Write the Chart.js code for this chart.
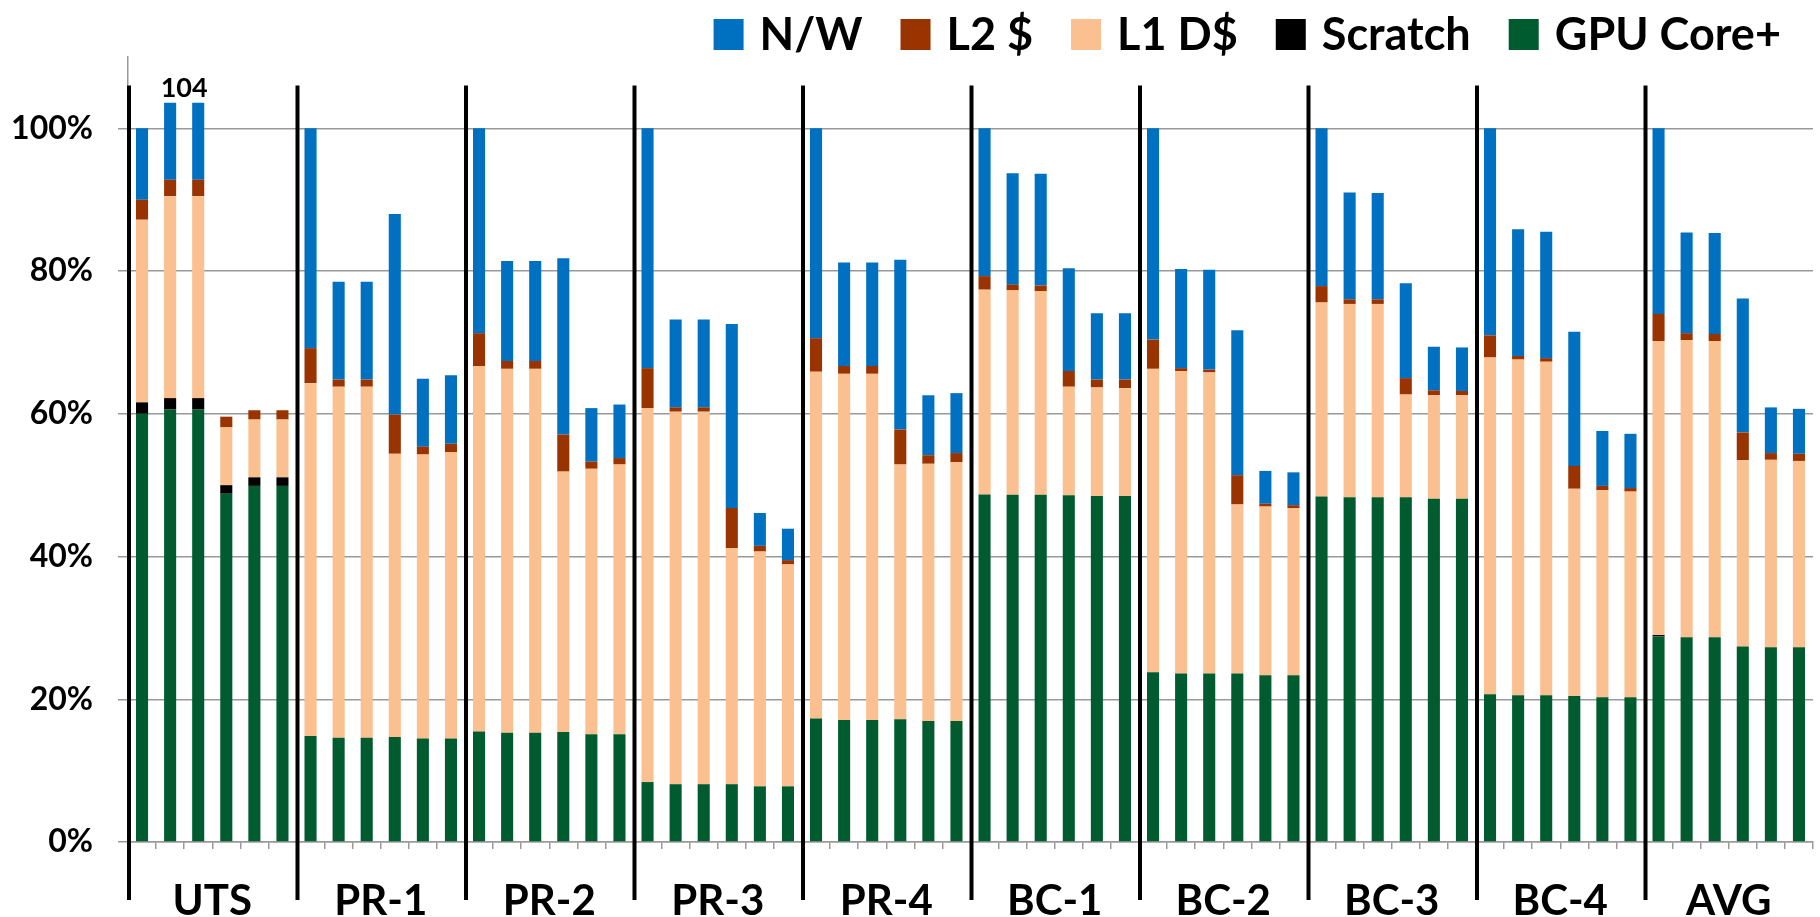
<!DOCTYPE html>
<html>
<head>
<meta charset="utf-8">
<script src="https://cdn.jsdelivr.net/npm/chart.js@4.4.1/dist/chart.umd.min.js"></script>
<style>
  html, body { margin: 0; padding: 0; background: #fff; }
  #wrap { width: 1820px; height: 917px; }
</style>
</head>
<body>
<div id="wrap"><canvas id="energyChart" width="1820" height="917"></canvas></div>
<script>
// benchmark groups, 6 configurations each
const groups = ['UTS', 'PR-1', 'PR-2', 'PR-3', 'PR-4', 'BC-1', 'BC-2', 'BC-3', 'BC-4', 'AVG'];
const barsPerGroup = 6;

// normalized energy breakdown (%), one row per group
const gpuCore = [
    60.0, 60.6, 60.6, 48.8, 49.9, 49.9,
    14.85, 14.6, 14.6, 14.7, 14.5, 14.5,
    15.5, 15.3, 15.3, 15.4, 15.1, 15.1,
    8.4, 8.1, 8.1, 8.1, 7.8, 7.8,
    17.3, 17.1, 17.1, 17.2, 16.95, 16.95,
    48.7, 48.65, 48.65, 48.6, 48.5, 48.5,
    23.8, 23.6, 23.6, 23.6, 23.35, 23.35,
    48.4, 48.3, 48.3, 48.3, 48.1, 48.1,
    20.7, 20.55, 20.55, 20.45, 20.3, 20.3,
    28.8, 28.7, 28.7, 27.4, 27.3, 27.3
];
const scratch = [
    1.6, 1.6, 1.6, 1.2, 1.2, 1.2,
    0, 0, 0, 0, 0, 0,
    0, 0, 0, 0, 0, 0,
    0, 0, 0, 0, 0, 0,
    0, 0, 0, 0, 0, 0,
    0, 0, 0, 0, 0, 0,
    0, 0, 0, 0, 0, 0,
    0, 0, 0, 0, 0, 0,
    0, 0, 0, 0, 0, 0,
    0.2, 0, 0, 0, 0, 0
];
const l1D = [
    25.6, 28.3, 28.3, 8.1, 8.1, 8.1,
    49.45, 49.2, 49.2, 39.7, 39.8, 40.1,
    51.2, 51.0, 51.0, 36.5, 37.2, 37.8,
    52.4, 52.2, 52.2, 33.1, 32.9, 31.1,
    48.6, 48.5, 48.5, 35.7, 36.05, 36.25,
    28.7, 28.65, 28.55, 15.2, 15.2, 15.1,
    42.5, 42.4, 42.2, 23.7, 23.65, 23.45,
    27.2, 27.1, 27.1, 14.4, 14.5, 14.5,
    47.2, 47.05, 46.75, 29.05, 29.0, 28.8,
    41.2, 41.6, 41.5, 26.1, 26.25, 26.1
];
const l2 = [
    2.8, 2.3, 2.3, 1.5, 1.3, 1.3,
    4.9, 1.0, 1.0, 5.5, 1.1, 1.2,
    4.6, 1.1, 1.1, 5.2, 1.0, 0.9,
    5.6, 0.6, 0.6, 5.6, 0.8, 0.6,
    4.7, 1.1, 1.1, 4.9, 1.2, 1.3,
    1.9, 0.8, 0.8, 2.2, 1.1, 1.2,
    4.1, 0.4, 0.4, 4.1, 0.4, 0.4,
    2.3, 0.65, 0.65, 2.3, 0.7, 0.6,
    3.1, 0.5, 0.5, 3.2, 0.6, 0.5,
    3.8, 1.0, 1.0, 3.9, 0.95, 1.0
];
const network = [
    10.0, 10.8, 10.8, 0, 0, 0,
    30.8, 13.7, 13.7, 28.1, 9.5, 9.6,
    28.7, 14.0, 14.0, 24.7, 7.5, 7.5,
    33.6, 12.3, 12.3, 25.8, 4.6, 4.4,
    29.4, 14.5, 14.5, 23.8, 8.4, 8.4,
    20.7, 15.6, 15.65, 14.4, 9.3, 9.3,
    29.6, 13.9, 14.0, 20.3, 4.6, 4.6,
    22.1, 14.95, 14.9, 13.3, 6.1, 6.1,
    29.0, 17.75, 17.7, 18.8, 7.7, 7.6,
    26.0, 14.1, 14.15, 18.75, 6.4, 6.3
];
const yTicks = [0, 20, 40, 60, 80, 100];

// one category per bar
const labels = [];
groups.forEach(g => { for (let i = 1; i <= barsPerGroup; i++) labels.push(g + ' #' + i); });

const FONT = 'Lato, "Open Sans", sans-serif';

// black group separators, the "104" overflow label and the legend
const extrasPlugin = {
    id: 'extras',
    afterDatasetsDraw(chart) {
        const ctx = chart.ctx;
        const xs = chart.scales.x;
        const ys = chart.scales.y;
        const slot = (xs.right - xs.left) / labels.length;
        ctx.save();

        // group separators
        ctx.strokeStyle = '#000';
        ctx.lineWidth = 4;
        for (let g = 0; g < groups.length; g++) {
            const x = xs.getPixelForValue(g * barsPerGroup) - slot / 2 + 1;
            ctx.beginPath();
            ctx.moveTo(x, ys.getPixelForValue(106));
            ctx.lineTo(x, ys.bottom + 58);
            ctx.stroke();
        }

        // value of the bars that overflow the 100% line
        const total = gpuCore[1] + scratch[1] + l1D[1] + l2[1] + network[1];
        const lx = (xs.getPixelForValue(1) + xs.getPixelForValue(2)) / 2;
        ctx.fillStyle = '#000';
        ctx.font = 'bold 27px ' + FONT;
        ctx.textAlign = 'center';
        ctx.textBaseline = 'alphabetic';
        ctx.fillText(String(Math.round(total)), lx, ys.getPixelForValue(total) - 6);

        // legend, right aligned, reversed dataset order
        const items = chart.data.datasets.slice().reverse();
        ctx.font = 'bold 45px ' + FONT;
        ctx.textAlign = 'left';
        const box = 30, gapText = 16, gapItem = 38;
        let width = 0;
        items.forEach((d, i) => {
            width += box + gapText + ctx.measureText(d.label).width + (i < items.length - 1 ? gapItem : 0);
        });
        let x = 1781 - width;
        items.forEach(d => {
            ctx.fillStyle = d.backgroundColor;
            ctx.fillRect(x, 19, box, 31);
            x += box + gapText;
            ctx.fillStyle = '#000';
            ctx.fillText(d.label, x, 50);
            x += ctx.measureText(d.label).width + gapItem;
        });
        ctx.restore();
    }
};

const ctx = document.getElementById('energyChart').getContext('2d');
const energyChart = new Chart(ctx, {
    type: 'bar',
    data: {
        labels: labels,
        datasets: [
            { label: 'GPU Core+', data: gpuCore, backgroundColor: '#005C2E' },
            { label: 'Scratch', data: scratch, backgroundColor: '#000000' },
            { label: 'L1 D$', data: l1D, backgroundColor: '#FAC090' },
            { label: 'L2 $', data: l2, backgroundColor: '#993300' },
            { label: 'N/W', data: network, backgroundColor: '#0070C0' }
        ]
    },
    options: {
        responsive: false,
        animation: false,
        datasets: {
            bar: { categoryPercentage: 1, barPercentage: 0.43, borderWidth: 0 }
        },
        layout: { padding: { left: 13, right: 7, top: 57, bottom: 0 } },
        plugins: {
            legend: { display: false },
            tooltip: { enabled: false }
        },
        scales: {
            x: {
                stacked: true,
                grid: { drawOnChartArea: false, tickLength: 7, color: '#999', lineWidth: 1.5 },
                border: { color: '#999', width: 1.5 },
                ticks: { display: false },
                afterFit(scale) { scale.height = 7; }
            },
            xg: {
                type: 'category',
                labels: groups,
                position: 'bottom',
                offset: true,
                grid: { display: false, drawTicks: false },
                border: { display: false },
                ticks: {
                    padding: 31,
                    color: '#000',
                    font: { family: FONT, size: 42, weight: 'bold', lineHeight: 1 }
                },
                afterFit(scale) { scale.height = 68; }
            },
            y: {
                stacked: true,
                min: 0,
                max: 110,
                afterBuildTicks(scale) { scale.ticks = yTicks.map(v => ({ value: v })); },
                afterFit(scale) { scale.width = 115; },
                grid: { color: '#999', lineWidth: 1.5, tickLength: 10 },
                border: { color: '#999', width: 1.5 },
                ticks: {
                    padding: 25,
                    color: '#000',
                    font: { family: FONT, size: 32, weight: 'bold' },
                    callback: v => v + '%'
                }
            }
        }
    },
    plugins: [extrasPlugin]
});
</script>
</body>
</html>
